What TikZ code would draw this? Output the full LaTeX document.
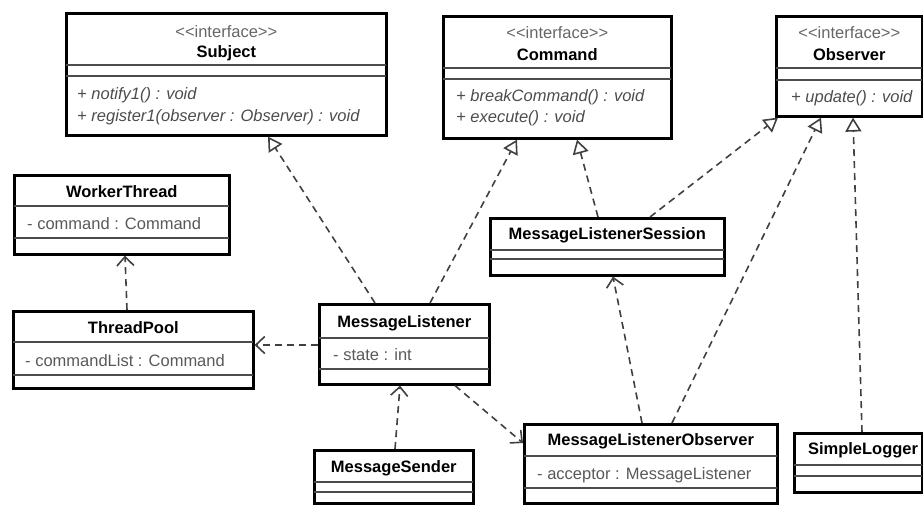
\documentclass[tikz,border=0pt]{standalone}
\usepackage{fontspec}
\setmainfont{Liberation Sans}
\usetikzlibrary{arrows.meta, positioning, calc}

\newcommand{\umlsize}{\fontsize{16.5}{19}\selectfont}
\newcommand{\ifacetag}{<\kern0pt<interface>\kern0pt>}

\begin{document}
\begin{tikzpicture}[x=1pt, y=-1pt,
    classbox/.style={rectangle, draw, line width=2.6pt, anchor=north west, inner sep=0pt},
    sepline/.style={draw=black!70, line width=1.3pt, shorten <=1.3pt, shorten >=1.3pt},
    classname/.style={font=\umlsize\bfseries},
    stereotype/.style={font=\umlsize, text=black!60},
    attribute/.style={font=\umlsize, text=black!65, anchor=west, inner sep=0pt},
    operation/.style={font=\umlsize\itshape, text=black!70, anchor=west, inner sep=0pt},
    realize/.style={draw=black!75, line width=1.6pt, dash pattern=on 7pt off 5pt, -{Triangle[open, length=14pt, width=16pt, fill=white]}},
    depend/.style={draw=black!75, line width=1.6pt, dash pattern=on 7pt off 5pt, -{Straight Barb[length=9pt, width=17pt]}}]

    \useasboundingbox (0,0) rectangle (923,504);

    % Interfaces
    \node[classbox, minimum width=320pt, minimum height=122pt] (subject) at (65,12) {};
    \node[stereotype] (subjectst) at ([yshift=-20pt]subject.north) {\ifacetag};
    \node[classname] (subjectnm) at ([yshift=-41pt]subject.north) {Subject};
    \path[sepline] ([yshift=-53pt]subject.north west) -- ([yshift=-53pt]subject.north east);
    \path[sepline] ([yshift=-64pt]subject.north west) -- ([yshift=-64pt]subject.north east);
    \node[operation] (subjectop1) at ([xshift=12pt, yshift=-83pt]subject.north west) {+ notify1() : void};
    \node[operation] (subjectop2) at ([xshift=12pt, yshift=-105pt]subject.north west) {+ register1(observer : Observer) : void};

    \node[classbox, minimum width=228pt, minimum height=122pt] (command) at (442,15) {};
    \node[stereotype] (commandst) at ([yshift=-18pt]command.north) {\ifacetag};
    \node[classname] (commandnm) at ([yshift=-40pt]command.north) {Command};
    \path[sepline] ([yshift=-53pt]command.north west) -- ([yshift=-53pt]command.north east);
    \path[sepline] ([yshift=-64pt]command.north west) -- ([yshift=-64pt]command.north east);
    \node[operation] (commandop1) at ([xshift=14pt, yshift=-82pt]command.north west) {+ breakCommand() : void};
    \node[operation] (commandop2) at ([xshift=14pt, yshift=-103pt]command.north west) {+ execute() : void};

    \node[classbox, minimum width=146pt, minimum height=100pt] (observer) at (775,15) {};
    \node[stereotype] (observerst) at ([yshift=-18pt]observer.north) {\ifacetag};
    \node[classname] (observernm) at ([yshift=-40pt]observer.north) {Observer};
    \path[sepline] ([yshift=-53pt]observer.north west) -- ([yshift=-53pt]observer.north east);
    \path[sepline] ([yshift=-65pt]observer.north west) -- ([yshift=-65pt]observer.north east);
    \node[operation] (observerop1) at ([xshift=16pt, yshift=-83pt]observer.north west) {+ update() : void};

    % Thread classes
    \node[classbox, minimum width=215pt, minimum height=79pt] (wt) at (13,174) {};
    \node[classname] (wtnm) at ([yshift=-18pt]wt.north) {WorkerThread};
    \path[sepline] ([yshift=-32pt]wt.north west) -- ([yshift=-32pt]wt.north east);
    \node[attribute] (wtat) at ([xshift=14pt, yshift=-50pt]wt.north west) {- command : Command};
    \path[sepline] ([yshift=-64pt]wt.north west) -- ([yshift=-64pt]wt.north east);

    \node[classbox, minimum width=240pt, minimum height=77pt] (tp) at (12,310) {};
    \node[classname] (tpnm) at ([yshift=-18pt]tp.north) {ThreadPool};
    \path[sepline] ([yshift=-32pt]tp.north west) -- ([yshift=-32pt]tp.north east);
    \node[attribute] (tpat) at ([xshift=13pt, yshift=-51pt]tp.north west) {- commandList : Command};
    \path[sepline] ([yshift=-65pt]tp.north west) -- ([yshift=-65pt]tp.north east);

    % Message classes
    \node[classbox, minimum width=170pt, minimum height=80pt] (ml) at (318,303) {};
    \node[classname] (mlnm) at ([yshift=-20pt]ml.north) {MessageListener};
    \path[sepline] ([yshift=-35pt]ml.north west) -- ([yshift=-35pt]ml.north east);
    \node[attribute] (mlat) at ([xshift=15pt, yshift=-52pt]ml.north west) {- state : int};
    \path[sepline] ([yshift=-66pt]ml.north west) -- ([yshift=-66pt]ml.north east);

    \node[classbox, minimum width=159pt, minimum height=53pt] (ms) at (313,449) {};
    \node[classname] (msnm) at ([yshift=-19pt]ms.north) {MessageSender};
    \path[sepline] ([yshift=-33pt]ms.north west) -- ([yshift=-33pt]ms.north east);
    \path[sepline] ([yshift=-43pt]ms.north west) -- ([yshift=-43pt]ms.north east);

    \node[classbox, minimum width=234pt, minimum height=57pt] (mls) at (489,217) {};
    \node[classname] (mlsnm) at ([yshift=-18pt]mls.north) {MessageListenerSession};
    \path[sepline] ([yshift=-33pt]mls.north west) -- ([yshift=-33pt]mls.north east);
    \path[sepline] ([yshift=-42pt]mls.north west) -- ([yshift=-42pt]mls.north east);

    \node[classbox, minimum width=253pt, minimum height=79pt] (mlo) at (523,423) {};
    \node[classname] (mlonm) at ([yshift=-18pt]mlo.north) {MessageListenerObserver};
    \path[sepline] ([yshift=-33pt]mlo.north west) -- ([yshift=-33pt]mlo.north east);
    \node[attribute] (mloat) at ([xshift=14pt, yshift=-52pt]mlo.north west) {- acceptor : MessageListener};
    \path[sepline] ([yshift=-65pt]mlo.north west) -- ([yshift=-65pt]mlo.north east);

    \node[classbox, minimum width=128pt, minimum height=59pt] (sl) at (793,432) {};
    \node[classname] (slnm) at ([xshift=70pt, yshift=-18pt]sl.north west) {SimpleLogger};
    \path[sepline] ([yshift=-33pt]sl.north west) -- ([yshift=-33pt]sl.north east);
    \path[sepline] ([yshift=-44pt]sl.north west) -- ([yshift=-44pt]sl.north east);

    % Realizations
    \path[realize] ([xshift=57pt]ml.north west) -- ([xshift=203pt]subject.south west);
    \path[realize] ([xshift=112pt]ml.north west) -- ([xshift=75pt]command.south west);
    \path[realize] ([xshift=109pt]mls.north west) -- ([xshift=135pt]command.south west);
    \path[realize] ([xshift=161pt]mls.north west) -- ([xshift=3pt]observer.south west);
    \path[realize] ([xshift=149pt]mlo.north west) -- ([xshift=46pt]observer.south west);
    \path[realize] ([xshift=69pt]sl.north west) -- ([xshift=78pt]observer.south west);

    % Dependencies
    \path[depend] ([xshift=119pt]mlo.north west) -- ([xshift=124pt]mls.south west);
    \path[depend] ([xshift=137pt]ml.south west) -- ([yshift=-20pt]mlo.north west);
    \path[depend] ([xshift=82pt]ms.north west) -- ([xshift=82pt]ml.south west);
    \path[depend] ([yshift=-42pt]ml.north west) -- ([yshift=-35pt]tp.north east);
    \path[depend] ([xshift=115pt]tp.north west) -- ([xshift=112pt]wt.south west);

\end{tikzpicture}
\end{document}
